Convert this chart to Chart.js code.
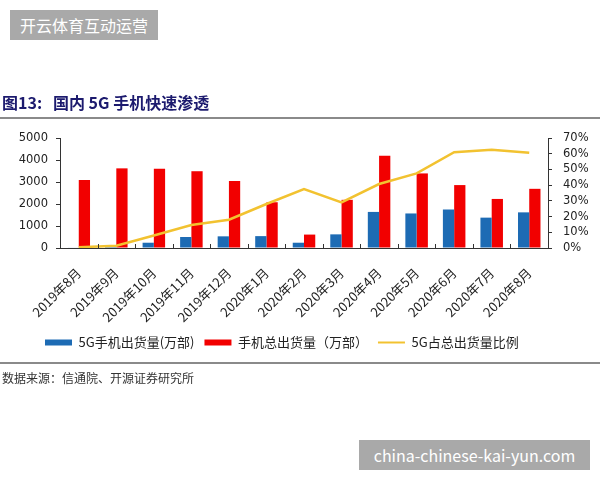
<!DOCTYPE html>
<html>
<head>
<meta charset="utf-8">
<script src="https://cdn.jsdelivr.net/npm/chart.js@4"></script>
<style>
  body { margin: 0; background: #fff; }
  #wrap { position: relative; width: 600px; height: 480px; overflow: hidden; font-family: "Noto Sans CJK SC", sans-serif; }
  #chart { position: absolute; left: 0; top: 0; }
  .mark { position: absolute; background: #a9a9a9; color: #fff; font-size: 16px; line-height: 30px; padding: 0 10px; }
  #title { position: absolute; left: 2px; top: 90px; font-size: 16px; font-weight: bold; color: #1c1a6e; white-space: nowrap; }
  .rule { position: absolute; left: 0; width: 600px; height: 2px; background: #8a8a8a; }
  #source { position: absolute; left: 2px; top: 369px; font-size: 12px; color: #333; }
</style>
</head>
<body>
<div id="wrap">
  <canvas id="chart" width="600" height="480"></canvas>
  <div class="mark" style="left:10px;top:10px;">开云体育互动运营</div>
  <div id="title">图13:&nbsp;&nbsp; 国内 5G 手机快速渗透</div>
  <div class="rule" style="top:117px;"></div>
  <div class="rule" style="top:362px;"></div>
  <div id="source">数据来源：信通院、开源证券研究所</div>
  <div class="mark" style="left:359px;top:440px;width:211px;text-align:center;">china-chinese-kai-yun.com</div>
</div>
<script>
var months = ["2019年8月", "2019年9月", "2019年10月", "2019年11月", "2019年12月", "2020年1月", "2020年2月",
    "2020年3月", "2020年4月", "2020年5月", "2020年6月", "2020年7月", "2020年8月"];
var shipments5G = [20, 50, 240, 500, 530, 540, 240, 620, 1640, 1570, 1750, 1380, 1620];
var shipmentsTotal = [3090, 3620, 3600, 3490, 3050, 2080, 610, 2190, 4190, 3390, 2860, 2230, 2690];
var share5G = [0.5, 1.4, 8, 14.6, 18, 28, 37.5, 29, 40.7, 47.5, 61, 62.5, 60.6];

var leftTicks = [0, 1000, 2000, 3000, 4000, 5000];
var rightTicks = [0, 10, 20, 30, 40, 50, 60, 70];

// small inside tick marks on the category axis, like the original
const innerTicks = {
    id: "innerTicks",
    beforeDraw(chart) {
        // legend sits a bit left of the plot centre in the original
        chart.legend.left = 35;
    },
    afterDraw(chart) {
        const ctx = chart.ctx;
        const x = chart.scales.x;
        const area = chart.chartArea;
        const step = (area.right - area.left) / months.length;
        ctx.save();
        ctx.strokeStyle = "#333";
        ctx.lineWidth = 1;
        for (let i = 1; i < months.length; i++) {
            let px = Math.round(x.getPixelForValue(i) - step / 2) + 0.5;
            ctx.beginPath();
            ctx.moveTo(px, area.bottom);
            ctx.lineTo(px, area.bottom - 4);
            ctx.stroke();
        }
        ctx.restore();
    }
};

new Chart(document.getElementById("chart"), {
    type: "bar",
    data: {
        labels: months,
        datasets: [{
            label: "5G手机出货量(万部)",
            data: shipments5G,
            backgroundColor: "#1d6bb4",
            yAxisID: "y",
            order: 2
        },
        {
            label: "手机总出货量（万部）",
            data: shipmentsTotal,
            backgroundColor: "#f20000",
            yAxisID: "y",
            order: 2
        },
        {
            type: "line",
            label: "5G占总出货量比例",
            data: share5G,
            borderColor: "#f2c230",
            backgroundColor: "#f2c230",
            borderWidth: 2.5,
            pointRadius: 0,
            tension: 0,
            yAxisID: "y1",
            order: 1
        }]
    },
    options: {
        responsive: false,
        animation: false,
        layout: { padding: { left: 0, right: 0, top: 138, bottom: 121 } },
        datasets: { bar: { categoryPercentage: 0.6, barPercentage: 1.0 } },
        plugins: {
            tooltip: { enabled: false },
            legend: {
                position: "bottom",
                align: "start",
                labels: {
                    usePointStyle: true,
                    pointStyleWidth: 27,
                    boxHeight: 6,
                    padding: 10,
                    color: "#222",
                    font: { family: "Noto Sans CJK SC", size: 13 },
                    sort: (a, b) => a.datasetIndex - b.datasetIndex,
                    generateLabels(chart) {
                        const items = Chart.defaults.plugins.legend.labels.generateLabels(chart);
                        items.forEach(function (it) {
                            it.pointStyle = it.datasetIndex === 2 ? "line" : "rect";
                            it.lineWidth = it.datasetIndex === 2 ? 2 : 0;
                            it.strokeStyle = chart.data.datasets[it.datasetIndex].borderColor || it.fillStyle;
                        });
                        return items;
                    }
                }
            }
        },
        scales: {
            x: {
                afterFit: function (s) { s.height = 78; },
                grid: { display: false },
                border: { color: "#333" },
                ticks: { minRotation: 45, maxRotation: 45, autoSkip: false, color: "#222", padding: 9,
                    font: { family: "Noto Sans CJK SC", size: 13 } }
            },
            y: {
                position: "left",
                min: 0, max: 5000,
                afterFit: function (s) { s.width = 60; },
                afterBuildTicks: function (s) { s.ticks = leftTicks.map(v => ({ value: v })); },
                grid: { drawOnChartArea: false, tickLength: 4, color: "#333" },
                border: { color: "#333" },
                ticks: { color: "#222", padding: 8, autoSkip: false, callback: v => String(v),
                    font: { family: "DejaVu Sans", size: 11.5 } }
            },
            y1: {
                position: "right",
                min: 0, max: 70,
                afterFit: function (s) { s.width = 52; },
                afterBuildTicks: function (s) { s.ticks = rightTicks.map(v => ({ value: v })); },
                grid: { drawOnChartArea: false, tickLength: 4, color: "#333" },
                border: { color: "#333" },
                ticks: { color: "#222", padding: 11, autoSkip: false, callback: v => v + "%",
                    font: { family: "DejaVu Sans", size: 11.5 } }
            }
        }
    },
    plugins: [innerTicks]
});
</script>
</body>
</html>
